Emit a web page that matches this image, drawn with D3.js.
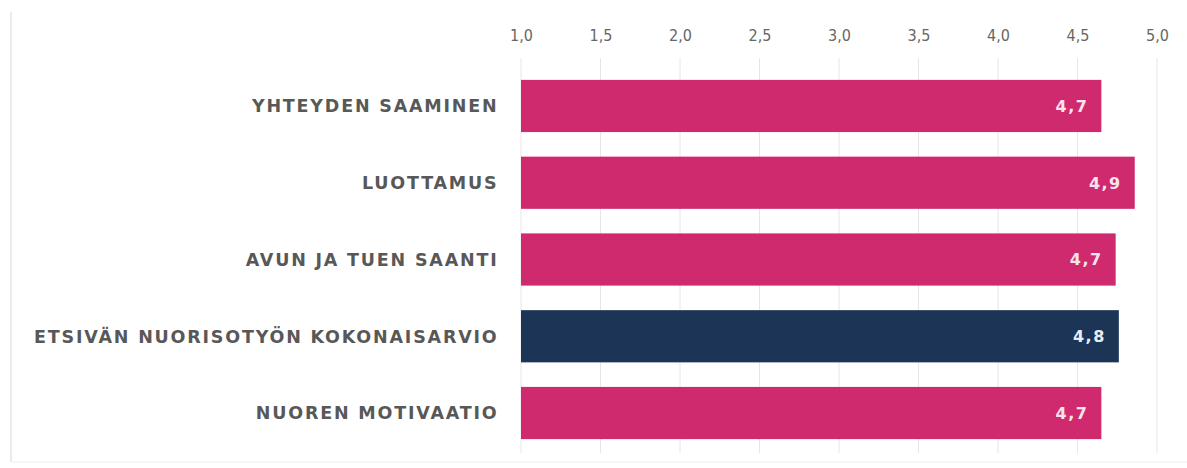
<!DOCTYPE html>
<html>
<head>
<meta charset="utf-8">
<script src="https://cdn.jsdelivr.net/npm/d3@7"></script>
<style>
  body { margin: 0; background: #fff; }
  svg { display: block; }
</style>
</head>
<body>
<svg id="chart"></svg>
<script>
// data
const categories = [
  'YHTEYDEN SAAMINEN',
  'LUOTTAMUS',
  'AVUN JA TUEN SAANTI',
  'ETSIVÄN NUORISOTYÖN KOKONAISARVIO',
  'NUOREN MOTIVAATIO'
];
const values = [4.65, 4.86, 4.74, 4.76, 4.65];
const valueLabels = ['4,7', '4,9', '4,7', '4,8', '4,7'];
const highlighted = ['ETSIVÄN NUORISOTYÖN KOKONAISARVIO'];
const tickValues = [1, 1.5, 2, 2.5, 3, 3.5, 4, 4.5, 5];

const width = 1187;
const height = 468;

const svg = d3.select('#chart').attr('width', width).attr('height', height);

// x axis 1..5
const x = d3.scaleLinear().domain([1, 5]).range([521, 1157]);

// one band per category
const y = d3
  .scaleBand()
  .domain(categories)
  .range([67.6, 451.4])
  .paddingInner(0.32)
  .paddingOuter(0.16);

// frame lines (faint)
svg.append('line')
  .attr('x1', 11).attr('x2', 11)
  .attr('y1', 12).attr('y2', 462)
  .attr('stroke', '#e4e4e4').attr('stroke-width', 1.5);
svg.append('line')
  .attr('x1', 11).attr('x2', width)
  .attr('y1', 462).attr('y2', 462)
  .attr('stroke', '#efefef').attr('stroke-width', 1);

// gridlines
svg.append('g')
  .selectAll('line')
  .data(tickValues)
  .enter()
  .append('line')
  .attr('x1', (d) => x(d))
  .attr('x2', (d) => x(d))
  .attr('y1', 58)
  .attr('y2', 453)
  .attr('stroke', '#e6e6e6')
  .attr('stroke-width', 1);

// top axis with comma decimals
const fmt = d3.formatLocale({ decimal: ',', thousands: ' ', grouping: [3], currency: ['', '€'] }).format('.1f');
const xAxis = d3.axisTop(x).tickValues(tickValues).tickFormat(fmt).tickSize(0).tickPadding(0);

const axisG = svg.append('g')
  .attr('transform', 'translate(0, 41)')
  .call(xAxis);
axisG.select('.domain').remove();
axisG.selectAll('text')
  .style('font-family', '"Liberation Sans Narrow", "DejaVu Sans Condensed", sans-serif')
  .style('font-size', '16px')
  .style('fill', '#666666');

// bars
svg.append('g')
  .selectAll('rect')
  .data(categories)
  .enter()
  .append('rect')
  .attr('x', x(1))
  .attr('y', (d) => y(d))
  .attr('width', (d, i) => x(values[i]) - x(1))
  .attr('height', y.bandwidth())
  .attr('fill', (d) => (highlighted.includes(d) ? '#1c3557' : '#cf2a6d'));

// value labels inside bars
svg.append('g')
  .selectAll('text')
  .data(categories)
  .enter()
  .append('text')
  .attr('x', (d, i) => x(values[i]) - 13)
  .attr('y', (d) => y(d) + y.bandwidth() / 2)
  .attr('dy', '0.36em')
  .attr('text-anchor', 'end')
  .style('font-family', '"DejaVu Sans", sans-serif')
  .style('font-weight', 'bold')
  .style('font-size', '16px')
  .style('letter-spacing', '1.5px')
  .style('fill', (d) => (highlighted.includes(d) ? '#e6edf5' : '#f7e4ed'))
  .text((d, i) => valueLabels[i]);

// category labels
svg.append('g')
  .selectAll('text')
  .data(categories)
  .enter()
  .append('text')
  .attr('x', 498.5)
  .attr('y', (d) => y(d) + y.bandwidth() / 2)
  .attr('dy', '0.36em')
  .attr('text-anchor', 'end')
  .style('font-family', '"DejaVu Sans", sans-serif')
  .style('font-weight', 'bold')
  .style('font-size', '17.5px')
  .style('letter-spacing', '1.8px')
  .style('fill', '#585858')
  .text((d) => d);
</script>
</body>
</html>
